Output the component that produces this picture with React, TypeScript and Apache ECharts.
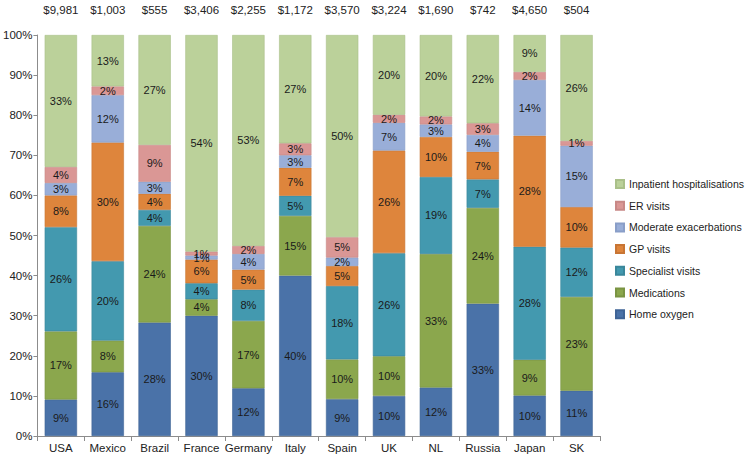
import React, { useEffect, useRef } from "react";
import * as echarts from "echarts";

const countries = ["USA", "Mexico", "Brazil", "France", "Germany", "Italy", "Spain", "UK", "NL", "Russia", "Japan", "SK"];
const costs = ["$9,981", "$1,003", "$555", "$3,406", "$2,255", "$1,172", "$3,570", "$3,224", "$1,690", "$742", "$4,650", "$504"];
const yTickLabels = ["0%", "10%", "20%", "30%", "40%", "50%", "60%", "70%", "80%", "90%", "100%"];

const homeOxygen = [9.1, 15.9, 28.3, 30.0, 11.9, 40.0, 9.2, 10.0, 12.1, 33.0, 10.1, 11.3];
const medications = [17.0, 7.9, 24.1, 4.1, 16.8, 14.9, 9.9, 9.9, 33.3, 23.9, 8.9, 23.4];
const specialistVisits = [26.0, 19.8, 4.0, 4.0, 7.8, 5.0, 18.3, 25.7, 19.2, 7.1, 28.2, 12.3];
const gpVisits = [7.9, 29.6, 4.0, 5.9, 5.0, 7.0, 5.0, 25.6, 10.0, 6.9, 27.7, 10.1];
const moderateExacerbations = [3.1, 11.8, 3.0, 1.0, 3.9, 3.1, 2.1, 6.9, 3.1, 4.2, 13.9, 15.3];
const erVisits = [4.0, 2.2, 9.2, 1.0, 2.0, 3.0, 5.1, 2.0, 2.0, 2.9, 2.0, 1.2];
const inpatient = [32.9, 12.8, 27.4, 54.0, 52.6, 27.0, 50.4, 19.9, 20.3, 22.0, 9.2, 26.4];

const seriesDefs = [
  { name: "Home oxygen", data: homeOxygen, color: "#4A72A8", border: "#3F6496" },
  { name: "Medications", data: medications, color: "#8BA74D", border: "#7A9443" },
  { name: "Specialist visits", data: specialistVisits, color: "#4399AF", border: "#3A879B" },
  { name: "GP visits", data: gpVisits, color: "#DE853C", border: "#C87534" },
  { name: "Moderate exacerbations", data: moderateExacerbations, color: "#99AED8", border: "#899EC8" },
  { name: "ER visits", data: erVisits, color: "#DA9795", border: "#C88886" },
  { name: "Inpatient hospitalisations", data: inpatient, color: "#BBD19A", border: "#AAC089" },
];

const FONT = "'Liberation Sans', Arial, sans-serif";

export default function App() {
  const ref = useRef<HTMLDivElement>(null);
  useEffect(() => {
    if (!ref.current) return;
    const chart = echarts.init(ref.current, undefined, { renderer: "svg" });
    chart.setOption({
      animation: false,
      backgroundColor: "#ffffff",
      textStyle: { fontFamily: FONT },
      grid: { left: 37, right: 150, top: 35, bottom: 21, containLabel: false },
      legend: {
        orient: "vertical",
        left: 610,
        top: 172,
        itemWidth: 8,
        itemHeight: 8,
        itemGap: 7.7,
        icon: "rect",
        data: seriesDefs.map((s) => s.name).reverse(),
        textStyle: { fontFamily: FONT, fontSize: 10.5, color: "#222", lineHeight: 14 },
      },
      xAxis: [
        {
          type: "category",
          data: countries,
          position: "bottom",
          axisLine: { show: true, lineStyle: { color: "#8c8c8c", width: 1 } },
          axisTick: { show: true, length: 5, alignWithLabel: false, lineStyle: { color: "#8c8c8c" } },
          axisLabel: { color: "#222", fontSize: 11.5, fontFamily: FONT, margin: 6, interval: 0 },
          splitLine: { show: false },
        },
        {
          type: "category",
          data: costs,
          position: "top",
          axisLine: { show: false },
          axisTick: { show: false },
          axisLabel: { color: "#222", fontSize: 11.5, fontFamily: FONT, margin: 19, interval: 0 },
          splitLine: { show: false },
        },
      ],
      yAxis: {
        type: "value",
        min: 0,
        max: 100,
        interval: 10,
        axisLine: { show: true, lineStyle: { color: "#8c8c8c", width: 1 } },
        axisTick: { show: true, length: 4, lineStyle: { color: "#8c8c8c" } },
        axisLabel: {
          color: "#222",
          fontSize: 11.5,
          fontFamily: FONT,
          margin: 5,
          formatter: (v: number) => yTickLabels[Math.round(v / 10)],
        },
        splitLine: { show: false },
      },
      series: seriesDefs.map((s) => ({
        name: s.name,
        type: "bar",
        stack: "total",
        xAxisIndex: 0,
        barCategoryGap: "31%",
        data: s.data,
        itemStyle: { color: s.color, borderColor: s.border, borderWidth: 0.6 },
        label: {
          show: true,
          position: "inside",
          color: "#1a1a1a",
          fontSize: 11,
          fontFamily: FONT,
          formatter: (p: any) => Math.round(p.value) + "%",
        },
      })),
    });
    return () => chart.dispose();
  }, []);
  return <div ref={ref} style={{ position: "fixed", left: 0, top: 0, width: 750, height: 457 }} />;
}
